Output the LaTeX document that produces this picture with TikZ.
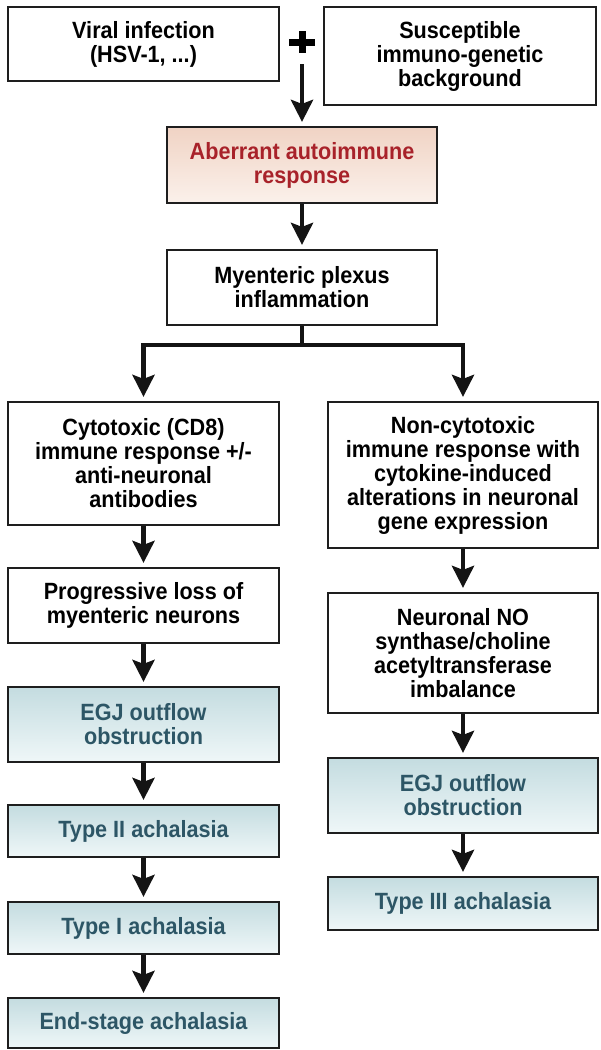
\documentclass[tikz,border=0pt]{standalone}
\usepackage{fontspec}
\setmainfont[FakeStretch=0.92]{Liberation Sans}
\usetikzlibrary{arrows.meta,shadings}
\definecolor{boxline}{HTML}{1E1E1E}
\definecolor{redtxt}{HTML}{A8222A}
\definecolor{peachtop}{HTML}{F0D3C4}
\definecolor{peachbot}{HTML}{FBF1EB}
\definecolor{bluetop}{HTML}{C4DCE0}
\definecolor{bluebot}{HTML}{EFF7F8}
\definecolor{tealtxt}{HTML}{2D5666}
\begin{document}
\begin{tikzpicture}[x=1pt,y=-1pt,
  every node/.style={font=\fontsize{23.5}{24}\selectfont\bfseries, align=center, inner sep=0pt},
  plainbox/.style={draw=boxline, line width=2.2pt, fill=white},
  peachbox/.style={draw=boxline, line width=2.2pt, top color=peachtop, bottom color=peachbot, text=redtxt},
  bluebox/.style={draw=boxline, line width=2.2pt, top color=bluetop, bottom color=bluebot, text=tealtxt},
  lcol/.style={minimum width=271pt},
  rcol/.style={minimum width=270pt},
  arr/.style={line width=4.5pt, draw=black!92, -{Stealth[length=22pt,width=22pt,inset=4pt]}, shorten >=4pt}
]
\useasboundingbox (0,0) rectangle (601,1050);

% top row
\node[plainbox, lcol, minimum height=74pt] (viral) at (143.5,44) {Viral infection\\(HSV-1, ...)};
\node[plainbox, minimum width=272pt, minimum height=98pt] (susc) at (460,56) {Susceptible\\immuno-genetic\\background};
\draw[line width=7pt] (289,42) -- (315,42);
\draw[line width=7pt] (302,31) -- (302,53);
\coordinate (pa) at (302,64);

% middle
\node[peachbox, rcol, minimum height=76pt] (aberr) at (302,165) {Aberrant autoimmune\\response};
\node[plainbox, rcol, minimum height=75pt] (myent) at (302,287.5) {Myenteric plexus\\inflammation};
\coordinate (branch) at (302,345);

% left column
\node[plainbox, lcol, minimum height=123pt] (cyto) at (143.5,463.5) {Cytotoxic (CD8)\\immune response +/-\\anti-neuronal\\antibodies};
\node[plainbox, lcol, minimum height=75pt] (prog) at (143.5,605.5) {Progressive loss of\\myenteric neurons};
\node[bluebox, lcol, minimum height=75pt] (egjL) at (143.5,724.5) {EGJ outflow\\obstruction};
\node[bluebox, lcol, minimum height=52pt] (type2) at (143.5,831) {Type II achalasia};
\node[bluebox, lcol, minimum height=52pt] (type1) at (143.5,928) {Type I achalasia};
\node[bluebox, lcol, minimum height=50pt] (endst) at (143.5,1023) {End-stage achalasia};

% right column
\node[plainbox, rcol, minimum height=146pt] (noncyto) at (463,475) {Non-cytotoxic\\immune response with\\cytokine-induced\\alterations in neuronal\\gene expression};
\node[plainbox, rcol, minimum height=120pt] (neur) at (463,653) {Neuronal NO\\synthase/choline\\acetyltransferase\\imbalance};
\node[bluebox, rcol, minimum height=75pt] (egjR) at (463,795.5) {EGJ outflow\\obstruction};
\node[bluebox, rcol, minimum height=53pt] (type3) at (463,903.5) {Type III achalasia};

% connectors
\draw[arr] (pa) -- (aberr.north);
\draw[arr] (aberr.south) -- (myent.north);
\draw[arr] (myent.south) -- (branch) -| (cyto.north);
\draw[arr] (branch) -| (noncyto.north);
\draw[arr] (cyto.south) -- (prog.north);
\draw[arr] (prog.south) -- (egjL.north);
\draw[arr] (egjL.south) -- (type2.north);
\draw[arr] (type2.south) -- (type1.north);
\draw[arr] (type1.south) -- (endst.north);
\draw[arr] (noncyto.south) -- (neur.north);
\draw[arr] (neur.south) -- (egjR.north);
\draw[arr] (egjR.south) -- (type3.north);
\end{tikzpicture}
\end{document}
